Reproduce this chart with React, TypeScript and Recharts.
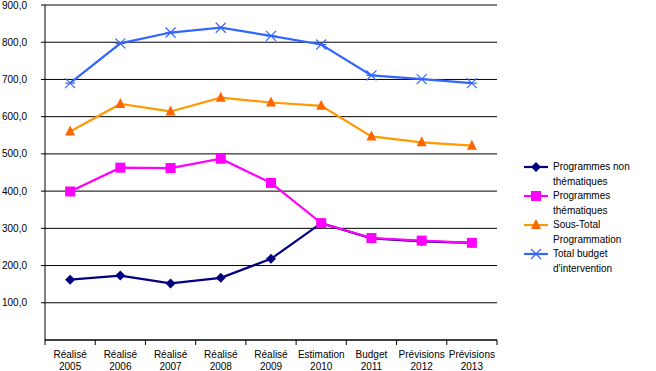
import React from 'react';
import { LineChart, Line, XAxis, YAxis, CartesianGrid } from 'recharts';

const categories = [
  'Réalisé 2005',
  'Réalisé 2006',
  'Réalisé 2007',
  'Réalisé 2008',
  'Réalisé 2009',
  'Estimation 2010',
  'Budget 2011',
  'Prévisions 2012',
  'Prévisions 2013',
];
const nonThematiques = [162, 173, 152, 167, 218, 314, 273, 265, 261];
const thematiques = [399, 463, 462, 487, 422, 314, 274, 267, 261];
const sousTotal = [560, 634, 614, 651, 638, 629, 547, 531, 522];
const totalBudget = [690, 797, 826, 839, 817, 794, 711, 701, 690];
const yTicks = [100, 200, 300, 400, 500, 600, 700, 800, 900];

const FONT = '"Liberation Sans", Arial, sans-serif';
const W = 656;
const H = 371;
const PLOT_LEFT = 45;
const PLOT_RIGHT = 497;
const HALF_BAND = (PLOT_RIGHT - PLOT_LEFT) / categories.length / 2;

type Shape = 'diamond' | 'square' | 'triangle' | 'cross';

const series: { key: string; name: string; line: string; marker: string; shape: Shape }[] = [
  { key: 'nonThem', name: 'Programmes non thématiques', line: '#000080', marker: '#000080', shape: 'diamond' },
  { key: 'them', name: 'Programmes thématiques', line: '#FF00FF', marker: '#FF00FF', shape: 'square' },
  { key: 'sousTotal', name: 'Sous-Total Programmation', line: '#FF9900', marker: '#FF6600', shape: 'triangle' },
  { key: 'total', name: "Total budget d'intervention", line: '#3366FF', marker: '#3366FF', shape: 'cross' },
];

const data = categories.map((c, i) => ({
  cat: c,
  nonThem: nonThematiques[i],
  them: thematiques[i],
  sousTotal: sousTotal[i],
  total: totalBudget[i],
}));

const marker = (shape: Shape, color: string, cx: number, cy: number, key?: string) => {
  switch (shape) {
    case 'diamond':
      return <polygon key={key} points={`${cx},${cy - 5} ${cx + 5},${cy} ${cx},${cy + 5} ${cx - 5},${cy}`} fill={color} />;
    case 'square':
      return <rect key={key} x={cx - 5} y={cy - 5} width={10} height={10} fill={color} />;
    case 'triangle':
      return <polygon key={key} points={`${cx},${cy - 6} ${cx + 5},${cy + 4} ${cx - 5},${cy + 4}`} fill={color} />;
    default:
      return (
        <g key={key} stroke={color} strokeWidth={1.2}>
          <line x1={cx - 5} y1={cy - 5} x2={cx + 5} y2={cy + 5} />
          <line x1={cx - 5} y1={cy + 5} x2={cx + 5} y2={cy - 5} />
          <line x1={cx - 5} y1={cy} x2={cx + 5} y2={cy} />
        </g>
      );
  }
};

const CatTick = (props: any) => {
  const { x, y, payload, index } = props;
  const label: string = payload.value;
  const sp = label.lastIndexOf(' ');
  const last = index === categories.length - 1;
  return (
    <g>
      <line x1={x - HALF_BAND} y1={y} x2={x - HALF_BAND} y2={y + 5} stroke="#000" />
      {last && <line x1={x + HALF_BAND} y1={y} x2={x + HALF_BAND} y2={y + 5} stroke="#000" />}
      <text x={x} y={y + 18} textAnchor="middle" fontSize={10} fontFamily={FONT} fill="#000">
        {label.slice(0, sp)}
      </text>
      <text x={x} y={y + 29.5} textAnchor="middle" fontSize={10} fontFamily={FONT} fill="#000">
        {label.slice(sp + 1)}
      </text>
    </g>
  );
};

export default function App() {
  return (
    <div style={{ position: 'absolute', left: 0, top: 0, width: W, height: H, background: '#fff' }}>
      <LineChart width={W} height={H} data={data} margin={{ top: 5, right: W - PLOT_RIGHT, left: 0, bottom: 0 }}>
        <CartesianGrid vertical={false} stroke="#000" strokeWidth={1} />
        <XAxis
          dataKey="cat"
          scale="band"
          height={31}
          interval={0}
          tickLine={false}
          tickSize={0}
          tickMargin={0}
          axisLine={{ stroke: '#000' }}
          tick={<CatTick />}
        />
        <XAxis
          xAxisId="top"
          orientation="top"
          dataKey="cat"
          scale="band"
          height={0}
          tick={false}
          tickLine={false}
          axisLine={{ stroke: '#808080' }}
        />
        <YAxis
          width={PLOT_LEFT}
          domain={[0, 900]}
          ticks={yTicks}
          interval={0}
          tickSize={4}
          tickMargin={14}
          tickLine={{ stroke: '#000' }}
          axisLine={{ stroke: '#000' }}
          tick={{ fontSize: 10, fontFamily: FONT, fill: '#000' }}
          tickFormatter={(v: number) => v.toFixed(1).replace('.', ',')}
        />
        <YAxis yAxisId="right" orientation="right" width={0} domain={[0, 900]} tick={false} tickLine={false} axisLine={{ stroke: '#808080' }} />
        {series.map((s) => (
          <Line
            key={s.key}
            dataKey={s.key}
            name={s.name}
            type="linear"
            stroke={s.line}
            strokeWidth={2.2}
            isAnimationActive={false}
            dot={(p: any) =>
              p.cx == null || p.cy == null ? <g key={`${s.key}-${p.index}`} /> : marker(s.shape, s.marker, p.cx, p.cy, `${s.key}-${p.index}`)
            }
            activeDot={false}
          />
        ))}
      </LineChart>
      <div style={{ position: 'absolute', left: 524, top: 160, fontFamily: FONT, fontSize: 10, color: '#000' }}>
        {series.map((s) => (
          <div key={s.key} style={{ display: 'flex', alignItems: 'flex-start', height: 29 }}>
            <svg width={24} height={14} style={{ flex: 'none' }}>
              <line x1={0} y1={7} x2={24} y2={7} stroke={s.line} strokeWidth={2.2} />
              {marker(s.shape, s.marker, 12, 7)}
            </svg>
            <div style={{ width: 92, marginLeft: 5, lineHeight: '14.5px' }}>{s.name}</div>
          </div>
        ))}
      </div>
    </div>
  );
}
